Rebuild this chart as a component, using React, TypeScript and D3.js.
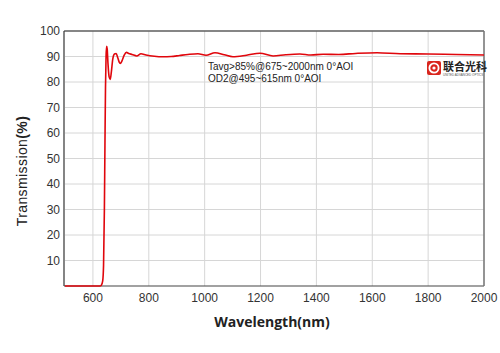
import React, {useEffect, useRef} from 'react';
import * as d3 from 'd3';

// transmission curve
const wavelengths = [500, 560, 600, 625, 630, 635, 638, 641, 643, 645, 647, 649, 651, 654, 658, 662, 666, 671, 677, 683, 689, 694, 698, 704, 712, 720, 728, 740, 757, 772, 790, 820, 850, 880, 910, 940, 976, 1005, 1037, 1070, 1101, 1150, 1198, 1245, 1290, 1341, 1380, 1424, 1480, 1540, 1617, 1700, 1800, 1900, 2000];
const transmission = [0, 0, 0, 0, 0.3, 2, 8, 30, 55, 78, 90, 94, 93, 87, 82, 81, 84, 89, 91, 91.2, 89.5, 87.8, 87.3, 88.3, 90.5, 91.6, 91.2, 90.8, 90.2, 91.1, 90.6, 90.1, 89.9, 90, 90.4, 90.8, 91.1, 90.5, 91.5, 90.7, 89.9, 90.5, 91.3, 90.2, 90.7, 91, 90.6, 90.9, 90.8, 91.2, 91.5, 91.1, 91, 90.8, 90.6];

const xTicks = [600, 800, 1000, 1200, 1400, 1600, 1800, 2000];
const yTicks = [10, 20, 30, 40, 50, 60, 70, 80, 90, 100];
const notes = ['Tavg>85%@675~2000nm 0°AOI', 'OD2@495~615nm 0°AOI'];

const W = 500, H = 353;
const margin = {left: 64, right: 16, top: 31, bottom: 67};

export default function App() {
  const ref = useRef<SVGSVGElement>(null);

  useEffect(() => {
    const svg = d3.select(ref.current);
    svg.selectAll('*').remove();

    const x = d3.scaleLinear().domain([500, 2000]).range([margin.left + 1, W - margin.right]);
    const y = d3.scaleLinear().domain([0, 100]).range([H - margin.bottom, margin.top]);

    svg.append('rect').attr('width', W).attr('height', H).attr('fill', '#fff');

    // grid
    const g = svg.append('g');
    g.selectAll('line.vg').data(xTicks).join('line')
      .attr('x1', d => x(d)).attr('x2', d => x(d))
      .attr('y1', y(0)).attr('y2', y(100))
      .attr('stroke', '#d6d6d6').attr('stroke-width', 1);
    g.selectAll('line.hg').data(yTicks).join('line')
      .attr('x1', x(500)).attr('x2', x(2000))
      .attr('y1', d => y(d)).attr('y2', d => y(d))
      .attr('stroke', '#d6d6d6').attr('stroke-width', 1);

    // frame
    svg.append('line').attr('x1', margin.left).attr('x2', x(2000)).attr('y1', y(100)).attr('y2', y(100))
      .attr('stroke', '#222').attr('stroke-width', 1.2);
    svg.append('line').attr('x1', margin.left).attr('x2', x(2000)).attr('y1', y(0)).attr('y2', y(0))
      .attr('stroke', '#444').attr('stroke-width', 1.2);
    svg.append('line').attr('x1', margin.left).attr('x2', margin.left).attr('y1', y(100)).attr('y2', y(0))
      .attr('stroke', '#333').attr('stroke-width', 1.2);
    svg.append('line').attr('x1', x(2000)).attr('x2', x(2000)).attr('y1', y(100)).attr('y2', y(0))
      .attr('stroke', '#777').attr('stroke-width', 1.5);

    // tick labels
    svg.selectAll('text.xt').data(xTicks).join('text')
      .attr('x', d => x(d)).attr('y', y(0) + 16)
      .attr('text-anchor', 'middle')
      .style('font', '12px Arial, "Liberation Sans", sans-serif').attr('fill', '#333')
      .text(d => d);
    svg.selectAll('text.yt').data(yTicks).join('text')
      .attr('x', margin.left - 4).attr('y', d => y(d) + 4)
      .attr('text-anchor', 'end')
      .style('font', '12px Arial, "Liberation Sans", sans-serif').attr('fill', '#333')
      .text(d => d);

    // axis titles
    svg.append('text')
      .attr('x', 272).attr('y', 327).attr('text-anchor', 'middle')
      .style('font', 'bold 14px "Open Sans", sans-serif').attr('fill', '#222')
      .text('Wavelength(nm)');
    const yt = svg.append('text')
      .attr('transform', `translate(27,${171}) rotate(-90)`)
      .attr('text-anchor', 'middle')
      .style('font', '14px Arial, "Liberation Sans", sans-serif').attr('fill', '#222')
      .style('letter-spacing', '0.4px');
    yt.append('tspan').text('Transmission');
    yt.append('tspan').style('font-weight', 'bold').text('(%)');

    // curve
    const pts = wavelengths.map((w, i) => [w, transmission[i]] as [number, number]);
    const line = d3.line<[number, number]>()
      .x(d => x(d[0])).y(d => y(d[1]))
      .curve(d3.curveMonotoneX);
    svg.append('path').datum(pts)
      .attr('d', line)
      .attr('fill', 'none').attr('stroke', '#e0060c').attr('stroke-width', 1.6);

    // notes
    svg.selectAll('text.note').data(notes).join('text')
      .attr('x', 208).attr('y', (_, i) => 70 + i * 11.5)
      .style('font', '10px Arial, "Liberation Sans", sans-serif').attr('fill', '#222')
      .text(d => d);

    // logo
    const logo = svg.append('g').attr('transform', 'translate(427,61)');
    logo.append('rect').attr('width', 14).attr('height', 14).attr('rx', 2).attr('fill', '#d9251d');
    logo.append('circle').attr('cx', 7).attr('cy', 7).attr('r', 4.6).attr('fill', 'none')
      .attr('stroke', '#fff').attr('stroke-width', 1.8);
    logo.append('circle').attr('cx', 7).attr('cy', 7).attr('r', 1.6).attr('fill', '#fff');
    logo.append('text').attr('x', 16).attr('y', 10)
      .style('font', 'bold 11px "Noto Sans CJK SC", sans-serif').attr('fill', '#222')
      .text('联合光科');
    logo.append('text').attr('x', 16).attr('y', 14.5)
      .style('font', '3px Arial, sans-serif').attr('fill', '#555')
      .text('UNITED ADVANCED OPTICS');
  }, []);

  return <svg ref={ref} width={W} height={H}
              style={{position: 'absolute', left: 0, top: 0}}/>;
}
